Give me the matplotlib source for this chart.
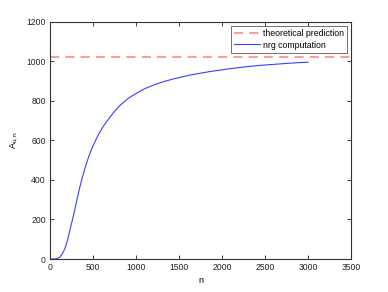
import matplotlib
matplotlib.use("Agg")
import matplotlib.pyplot as plt

n_vals = [0, 30, 55, 85, 113, 140, 171, 200, 229, 258, 288, 317, 346, 375, 404,
          433, 462, 491, 520, 550, 579, 617, 656, 695, 734, 773, 810, 850, 905,
          966, 1025, 1083, 1160, 1238, 1330, 1432, 1530, 1626, 1742, 1850, 1960,
          2054, 2200, 2300, 2442, 2600, 2750, 2900, 3000]
a_vals = [0, 0, 0, 3, 9, 25, 51, 90, 144, 195, 250, 308, 364, 412, 457,
          497, 533, 564, 592, 619, 643, 670, 694, 717, 739, 759, 776, 792, 811,
          829, 844, 858, 873, 886, 899, 911, 921, 931, 940, 948, 955,
          961, 969, 974, 980, 985, 990, 994, 996]
theory_value = 1020
xlim = (0, 3500)
ylim = (0, 1200)
xticks = [0, 500, 1000, 1500, 2000, 2500, 3000, 3500]
yticks = [0, 200, 400, 600, 800, 1000, 1200]

plt.rcParams['font.family'] = ['Liberation Sans', 'DejaVu Sans']
plt.rcParams['mathtext.fontset'] = 'custom'
plt.rcParams['mathtext.rm'] = 'Liberation Sans'
plt.rcParams['mathtext.it'] = 'Liberation Sans'

fig = plt.figure(figsize=(3.88, 2.92), dpi=100)
ax = fig.add_axes([0.129, 0.113, 0.776, 0.812])

ax.axhline(theory_value, color='#ff8080', lw=1.1, dashes=(6, 4),
           label='theoretical prediction')
ax.plot(n_vals, a_vals, color='#3d3dff', lw=0.8, label='nrg computation')

ax.set_xlim(*xlim)
ax.set_ylim(*ylim)
ax.set_xticks(xticks)
ax.set_yticks(yticks)
ax.tick_params(direction='in', length=3, width=0.6, labelsize=6.2, top=True,
               right=True, pad=3, colors='#222222')
for s in ax.spines.values():
    s.set_linewidth(0.8)
    s.set_color('#333333')

ax.set_xlabel('n', fontsize=6.5, labelpad=3)
ax.set_ylabel(r'$\mathregular{A_{u,n}}$', fontsize=6.5, labelpad=5)

leg = ax.legend(loc='upper right', fontsize=6.3, frameon=True, fancybox=False,
                borderpad=0.35, labelspacing=0.25, handlelength=3.0,
                handletextpad=0.3, borderaxespad=0.5)
leg.get_frame().set_edgecolor('#333333')
leg.get_frame().set_linewidth(0.6)

fig.savefig('out.png', dpi=100)
